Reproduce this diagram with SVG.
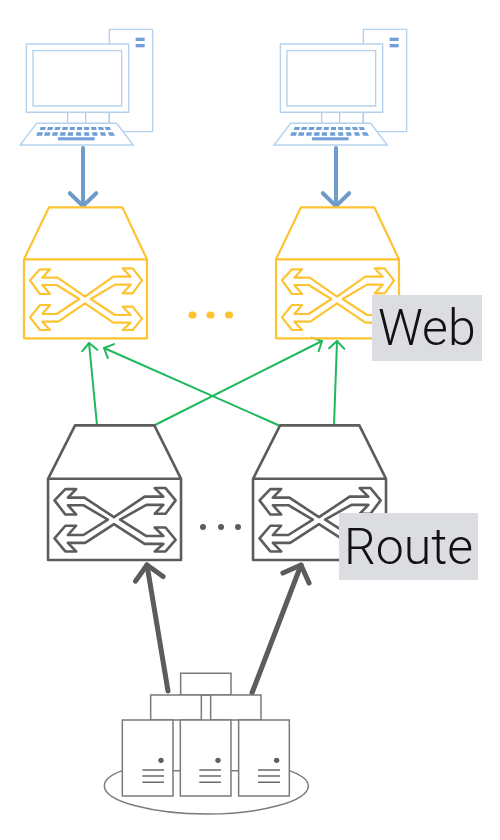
<svg xmlns="http://www.w3.org/2000/svg" width="500" height="840" viewBox="0 0 500 840">
<style>
#switch path,#computer *{vector-effect:non-scaling-stroke}
#switch path{fill:none;stroke-linejoin:round}
.y{stroke:#fdc330;stroke-width:2.2}
.g{stroke:#5c5c5c;stroke-width:2.6}
.pcl{fill:#fff;stroke:#b4d2ee;stroke-width:1.4}
.key{fill:#6f9fd6;stroke:none}
.sv{fill:#fff;stroke:#7a7a7a;stroke-width:1.5;vector-effect:non-scaling-stroke}
.ln{stroke:#6a6a6a;stroke-width:1.5;vector-effect:non-scaling-stroke;fill:none}
.dot{fill:#5e5e5e}
.lab{fill:#dcdde1}
.t{font-family:"Roboto","Liberation Sans",sans-serif;font-weight:300;font-size:50px;fill:#111}
.c{fill:none;stroke-linecap:round}
</style>
<defs>
<marker id="mb" viewBox="-5 -5 6 10" refX="0" refY="0" markerWidth="6" markerHeight="10" orient="auto"><path d="M-3.2,-3.3L0,0L-3.2,3.3" fill="none" stroke="#6f9bca" stroke-width="1" stroke-linecap="round" stroke-linejoin="round"/></marker>
<marker id="mg" viewBox="-6 -6 7 12" refX="0" refY="0" markerWidth="7" markerHeight="12" orient="auto"><path d="M-3.8,-3.8L0,0L-3.8,3.8" fill="none" stroke="#1fb85c" stroke-width="1" stroke-linecap="round" stroke-linejoin="round"/></marker>
<marker id="md" viewBox="-5 -5 6 10" refX="0" refY="0" markerWidth="6" markerHeight="10" orient="auto"><path d="M-2.8,-2.8L0,0L-2.8,2.8" fill="none" stroke="#5c5c5c" stroke-width="1" stroke-linecap="round" stroke-linejoin="round"/></marker>
<g id="switch">
<path d="M42,178L117,22H337L411,178ZM42,178H411V415H42Z"/>
<path d="M60,241L90,208H120L97,233H143L225,290L310,230H362L338,205H368L396,241L368,280H338L362,254H315L242,297L315,345H362L338,320H368L396,356L368,390H338L362,368H310L225,310L145,365H97L120,390H90L60,352L90,315H120L97,342H140L208,297L140,255H97L120,282H90Z"/>
</g>
<g id="computer">
<rect class="pcl" x="298" y="28" width="130" height="307"/>
<rect class="key" x="377" y="53" width="27" height="10"/>
<rect class="key" x="377" y="72" width="27" height="10"/>
<path class="pcl" d="M173,277V310M227,277V310M298,277V310"/>
<rect class="pcl" x="49" y="72" width="307" height="205"/>
<rect class="pcl" x="69" y="92" width="266" height="166"/>
<path class="pcl" d="M80,310H320L370,375H30Z"/>
<path class="key" d="M92,321h16l-3,9h-16zM114,321h16l-3,9h-16zM136,321h16l-3,9h-16zM158,321h16l-2,9h-16zM180,321h15l-1,9h-15zM201,321h15l0,9h-15zM222,321h15l1,9h-15zM243,321h15l2,9h-15zM264,321h15l3,9h-15zM284,321h15l4,9h-15z"/>
<path class="key" d="M82,337h17l-3,10h-17zM105,337h16l-2,10h-17zM128,337h16l-2,10h-16zM151,337h16l-1,10h-16zM174,337h15l0,10h-16zM198,337h15l1,10h-15zM222,337h15l1,10h-15zM246,337h15l2,10h-15zM270,337h15l3,10h-15zM294,337h15l6,10h-17z"/>
<rect class="key" x="144" y="352" width="110" height="9"/>
</g>
</defs>

<g id="connectors">
<path class="c" d="M83,148V206" stroke="#6f9bca" stroke-width="4" marker-end="url(#mb)"/>
<path class="c" d="M336,148V206" stroke="#6f9bca" stroke-width="4" marker-end="url(#mb)"/>
<path class="c" d="M97,425L89,343" stroke="#1fb85c" stroke-width="2" marker-end="url(#mg)"/>
<path class="c" d="M155,425L322,341" stroke="#1fb85c" stroke-width="2" marker-end="url(#mg)"/>
<path class="c" d="M278,425L104,348" stroke="#1fb85c" stroke-width="2" marker-end="url(#mg)"/>
<path class="c" d="M334,425L337,341" stroke="#1fb85c" stroke-width="2" marker-end="url(#mg)"/>
<path class="c" d="M168,691L147,565" stroke="#5c5c5c" stroke-width="5" marker-end="url(#md)"/>
<path class="c" d="M252,693L301,565" stroke="#5c5c5c" stroke-width="5" marker-end="url(#md)"/>
</g>

<g id="pc-left"><use href="#computer" transform="translate(10,20) scale(.3333)"/></g>
<g id="pc-right"><use href="#computer" transform="translate(264,20) scale(.3333)"/></g>

<g id="web-left" class="y"><use href="#switch" transform="translate(10,200) scale(.3333)"/></g>
<g id="web-right" class="y"><use href="#switch" transform="translate(262,200) scale(.3333)"/></g>
<g id="web-dots" fill="#fdc330"><rect x="188.500" y="311.500" width="8" height="7" rx="3.500"/><rect x="206.500" y="311.500" width="8" height="7" rx="3.500"/><rect x="225" y="311.500" width="8" height="7" rx="3.500"/></g>
<g id="web-label"><rect class="lab" x="372" y="295" width="110" height="66"/><text class="t" x="378" y="345">Web</text></g>

<g id="route-left" class="g"><use href="#switch" transform="translate(32.900,417.800) scale(.3604,.3427)"/></g>
<g id="route-right" class="g"><use href="#switch" transform="translate(237.900,417.800) scale(.3604,.3427)"/></g>
<g id="route-dots" fill="#5c5c5c"><circle cx="203" cy="527" r="3"/><circle cx="221" cy="527" r="3"/><circle cx="238" cy="527" r="3"/></g>
<g id="route-label"><rect class="lab" x="339" y="513" width="139" height="67"/><text class="t" x="344" y="564">Route</text></g>

<g id="servers" transform="translate(90,650) scale(.3333)">
<path class="sv" d="M43,407C43,385 75,370 97,362H598C630,372 655,390 655,407C655,455 510,492 350,492C190,492 43,455 43,407Z"/>
<rect class="sv" x="272" y="70" width="151" height="65"/>
<rect class="sv" x="182" y="135" width="152" height="75"/>
<rect class="sv" x="362" y="135" width="151" height="75"/>
<path class="sv" d="M334,135H362"/>
<rect class="sv" x="97" y="210" width="152" height="228"/>
<rect class="sv" x="271" y="210" width="152" height="228"/>
<rect class="sv" x="446" y="210" width="152" height="228"/>
<circle class="dot" cx="213" cy="331" r="8"/><circle class="dot" cx="384" cy="331" r="8"/><circle class="dot" cx="560" cy="331" r="8"/>
<path class="ln" d="M157,360H222M157,378H222M157,397H222M328,360H393M328,378H393M328,397H393M504,360H570M504,378H570M504,397H570"/>
</g>
</svg>
